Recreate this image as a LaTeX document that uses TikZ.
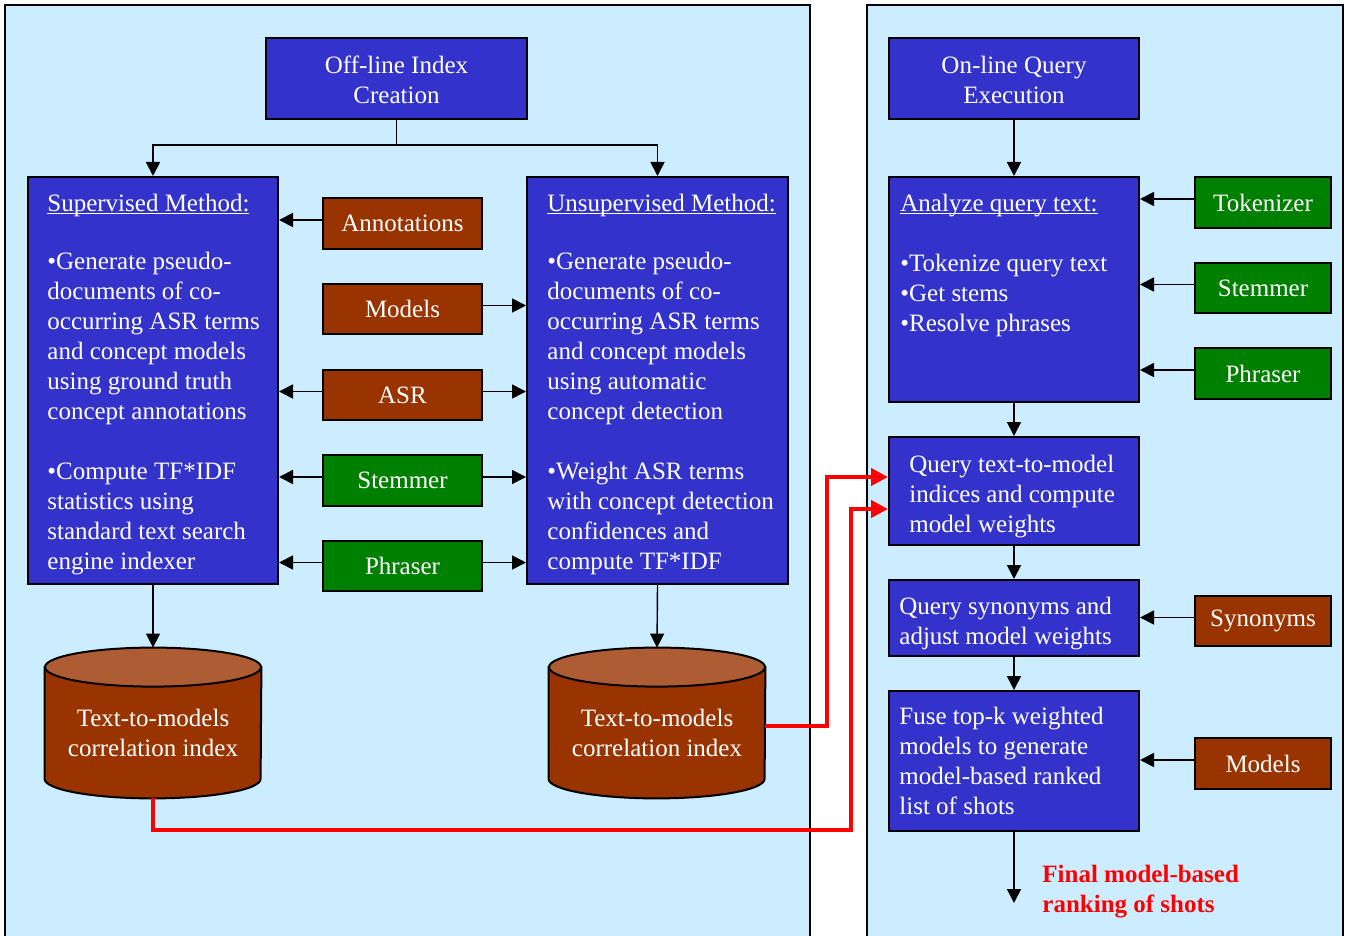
\documentclass[tikz,border=0pt]{standalone}
\usepackage{fontspec}
\setmainfont{Liberation Serif}
\usetikzlibrary{arrows.meta,fit}

\definecolor{panelbg}{HTML}{CCECFF}
\definecolor{boxblue}{HTML}{3333CC}
\definecolor{boxbrown}{HTML}{993300}
\definecolor{boxgreen}{HTML}{008000}
\definecolor{cyltop}{HTML}{AE5C33}

% underline sitting just below the baseline
\newcommand\ulinetext[1]{\setbox0=\hbox{#1}\rlap{\rule[-1.5pt]{\wd0}{0.6pt}}\box0}

% cylinder drawn over the bounding rectangle of a node
\newcommand\cylshape[1]{%
  \path[fill=boxbrown, draw=black, line width=1pt]
    ([yshift=-9.75pt]#1.north west) -- ([yshift=9.75pt]#1.south west)
    arc[start angle=180, end angle=360, x radius=54pt, y radius=9.75pt]
    -- ([yshift=-9.75pt]#1.north east) -- cycle;
  \path[fill=cyltop, draw=black, line width=1pt]
    ([yshift=-9.75pt]#1.north) ellipse [x radius=54pt, y radius=9.75pt];
}

\begin{document}
\begin{tikzpicture}[x=0.5pt,y=-0.5pt,
  every node/.style={font=\fontsize{12.5pt}{15pt}\selectfont, text=white},
  sz/.style 2 args={minimum width=#1*0.5pt, minimum height=#2*0.5pt},
  box/.style={draw=black, line width=1pt, inner sep=0pt, align=center},
  bluebox/.style={box, fill=boxblue},
  brownbox/.style={box, fill=boxbrown},
  greenbox/.style={box, fill=boxgreen},
  area/.style={inner sep=0pt},
  txt/.style={inner sep=0pt, anchor=north west, align=left},
  link/.style={draw=black, line width=0.9pt, -{Triangle[length=7pt,width=7pt]}},
  plainlink/.style={draw=black, line width=0.9pt},
  redlink/.style={draw=red, line width=2.2pt, -{Triangle[length=8.5pt,width=8.5pt]}},
]
\useasboundingbox (0,0) rectangle (1350,936);
\clip (0,0) rectangle (1350,936);
\fill[white] (0,0) rectangle (1350,936);

% panels
\filldraw[fill=panelbg, draw=black, line width=1pt] (5,5) rectangle (810,980);
\filldraw[fill=panelbg, draw=black, line width=1pt] (867,5) rectangle (1343,980);

% ---------- off-line side ----------
\node[bluebox, sz={261}{81}] (offl) at (396.5,78.5) {\strut Off-line Index\\Creation};
\node[bluebox, sz={250}{407}] (sup) at (153,380.5) {};
\node[bluebox, sz={261}{407}] (unsup) at (657.5,380.5) {};

\node[brownbox, sz={159}{51}] (ann) at (402.5,223.5) {Annotations};
\node[brownbox, sz={159}{50}] (mod) at (402.5,309) {Models};
\node[brownbox, sz={159}{50}] (asr) at (402.5,395) {ASR};
\node[greenbox, sz={159}{51}] (stem) at (402.5,480.5) {Stemmer};
\node[greenbox, sz={159}{50}] (phr) at (402.5,566) {Phraser};

\node[txt] (supt) at (47,190) {\strut\ulinetext{Supervised Method:}\\[14pt]
  •Generate pseudo-\\documents of co-\\occurring ASR terms\\and concept models\\
  using ground truth\\concept annotations\\[15pt]
  •Compute TF*IDF\\statistics using\\standard text search\\engine indexer};
\node[txt] (unsupt) at (547,190) {\strut\ulinetext{Unsupervised Method:}\\[14pt]
  •Generate pseudo-\\documents of co-\\occurring ASR terms\\and concept models\\
  using automatic\\concept detection\\[15pt]
  •Weight ASR terms\\with concept detection\\confidences and\\compute TF*IDF};

\node[area, fit={(45,648) (261,798)}] (cylL) {};
\node[area, fit={(549,648) (765,798)}] (cylR) {};
\cylshape{cylL}
\cylshape{cylR}
\node[inner sep=0pt, anchor=north, align=center] (cylLt) at (153,705)
  {\strut Text-to-models\\correlation index};
\node[inner sep=0pt, anchor=north, align=center] (cylRt) at (657,705)
  {\strut Text-to-models\\correlation index};

% ---------- on-line side ----------
\node[bluebox, sz={250}{81}] (onl) at (1014,78.5) {\strut On-line Query\\Execution};
\node[bluebox, sz={250}{225}] (anl) at (1014,289.5) {};
\node[bluebox, sz={250}{108}] (qtm) at (1014,491) {};
\node[bluebox, sz={250}{76}] (qsyn) at (1014,618) {};
\node[bluebox, sz={250}{140}] (fuse) at (1014,761) {};

\node[greenbox, sz={136}{51}] (tok) at (1263,202.5) {Tokenizer};
\node[greenbox, sz={136}{50}] (stm2) at (1263,288) {Stemmer};
\node[greenbox, sz={136}{51}] (phr2) at (1263,373.5) {Phraser};
\node[brownbox, sz={136}{50}] (syn) at (1263,621) {Synonyms};
\node[brownbox, sz={136}{51}] (mod2) at (1263,763.5) {Models};

\node[txt] (anlt) at (900,190) {\strut\ulinetext{Analyze query text:}\\[15pt]
  •Tokenize query text\\•Get stems\\•Resolve phrases};
\node[txt] (qtmt) at (909,451) {\strut Query text-to-model\\indices and compute\\model weights};
\node[txt] (qsynt) at (899,593) {\strut Query synonyms and\\adjust model weights};
\node[txt] (fuset) at (899,703) {\strut Fuse top-k weighted\\models to generate\\model-based ranked\\list of shots};
\node[txt, text=red, font=\fontsize{12.5pt}{15pt}\selectfont\bfseries] (finalt) at (1042,861)
  {\strut Final model-based\\ranking of shots};

% ---------- connectors ----------
\coordinate (split) at (396.5,145);
\draw[plainlink] (offl.south) -- (split);
\draw[link] (split) -| (sup.north);
\draw[link] (split) -| (unsup.north);

\foreach \n in {ann,mod,asr,stem,phr,tok,stm2,phr2,syn,mod2}
  \coordinate (\n-w) at ([yshift=1.75pt]\n.west);
\foreach \n in {mod,asr,stem,phr}
  \coordinate (\n-e) at ([yshift=1.75pt]\n.east);

\draw[link] (ann-w) -- (ann-w -| sup.east);
\draw[link] (asr-w) -- (asr-w -| sup.east);
\draw[link] (stem-w) -- (stem-w -| sup.east);
\draw[link] (phr-w) -- (phr-w -| sup.east);
\draw[link] (mod-e) -- (mod-e -| unsup.west);
\draw[link] (asr-e) -- (asr-e -| unsup.west);
\draw[link] (stem-e) -- (stem-e -| unsup.west);
\draw[link] (phr-e) -- (phr-e -| unsup.west);

\draw[link, line width=0.7pt] (sup.south) -- (cylL.north);
\draw[link, line width=0.7pt] (unsup.south) -- (cylR.north);

\draw[link] (onl.south) -- (anl.north);
\draw[link] (anl.south) -- (qtm.north);
\draw[link] (qtm.south) -- (qsyn.north);
\draw[link] (qsyn.south) -- (fuse.north);
\coordinate (final) at (1014,903);
\draw[link] (fuse.south) -- (final);

\draw[link] (tok-w) -- (tok-w -| anl.east);
\draw[link] (stm2-w) -- (stm2-w -| anl.east);
\draw[link] (phr2-w) -- (phr2-w -| anl.east);
\draw[link] (syn-w) -- (syn-w -| qsyn.east);
\draw[link] (mod2-w) -- (mod2-w -| fuse.east);

% index lookups feeding the query step
\coordinate (qin1) at ([yshift=7pt]qtm.west);
\coordinate (qin2) at ([yshift=-9pt]qtm.west);
\coordinate (cylRout) at ([yshift=-1.5pt]cylR.east);
\coordinate (bend1) at (827,477);
\coordinate (bend2) at (851,830);
\draw[redlink] (cylRout) -| (bend1) -- (qin1);
\draw[redlink] (cylL.south) |- (bend2) |- (qin2);
\end{tikzpicture}
\end{document}
